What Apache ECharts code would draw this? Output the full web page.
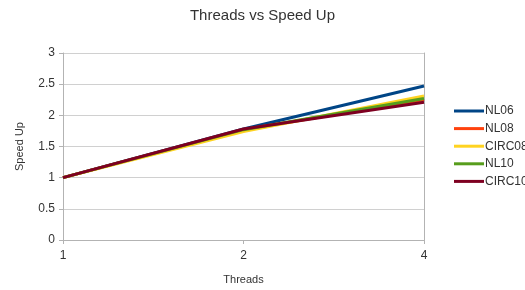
<!DOCTYPE html>
<html><head><meta charset="utf-8">
<script src="https://cdn.jsdelivr.net/npm/echarts@6/dist/echarts.min.js"></script>
<style>html,body{margin:0;padding:0;background:#fff}#c{width:525px;height:290px}</style>
</head><body><div id="c"></div>
<script>
var threads = ['1', '2', '4'];
var NL06 = [1, 1.78, 2.47];
var NL08 = [1, 1.77, 2.25];
var CIRC08 = [1, 1.74, 2.31];
var NL10 = [1, 1.77, 2.27];
var CIRC10 = [1, 1.78, 2.21];
var names = ['NL06', 'NL08', 'CIRC08', 'NL10', 'CIRC10'];
var colors = ['#004586', '#ff420e', '#ffd320', '#579d1c', '#7e0021'];
var dataSets = [NL06, NL08, CIRC08, NL10, CIRC10];
var font = 'Liberation Sans, Arial, sans-serif';
var chart = echarts.init(document.getElementById('c'));
chart.setOption({
  animation: false,
  title: { text: 'Threads vs Speed Up', left: 'center', top: 3,
    textStyle: { fontFamily: font, fontSize: 15, fontWeight: 'normal', color: '#333' } },
  grid: { left: 63, right: 101, top: 53, bottom: 48 },
  legend: {
    orient: 'vertical', left: 454, top: 105, itemWidth: 30, itemHeight: 3, itemGap: 5.6,
    padding: 0, icon: 'rect',
    textStyle: { fontFamily: font, fontSize: 12, color: '#333', padding: [0, 0, 0, -4] },
    data: names
  },
  xAxis: {
    type: 'category', data: threads, boundaryGap: false,
    name: 'Threads', nameLocation: 'middle', nameGap: 34,
    nameTextStyle: { fontFamily: font, fontSize: 11, color: '#333' },
    axisLine: { lineStyle: { color: '#b3b3b3' } },
    axisTick: { show: true, length: 4, lineStyle: { color: '#b3b3b3' } },
    axisLabel: { fontFamily: font, fontSize: 12, color: '#333', margin: 10 },
    splitLine: { show: false }
  },
  yAxis: [{
    type: 'value', min: 0, max: 3, interval: 0.5,
    name: 'Speed Up', nameLocation: 'middle', nameGap: 38,
    nameTextStyle: { fontFamily: font, fontSize: 11, color: '#333' },
    axisLine: { show: true, lineStyle: { color: '#b3b3b3' } },
    axisTick: { show: true, length: 4, lineStyle: { color: '#b3b3b3' } },
    axisLabel: { fontFamily: font, fontSize: 12, color: '#333', margin: 8 },
    splitLine: { lineStyle: { color: '#d0d0d0' } }
  }, {
    type: 'value', min: 0, max: 3, interval: 0.5, position: 'right',
    axisLine: { show: true, lineStyle: { color: '#b3b3b3' } },
    axisTick: { show: false }, axisLabel: { show: false }, splitLine: { show: false }
  }],
  series: names.map(function (n, i) {
    return {
      name: n, type: 'line', data: dataSets[i], symbol: 'none',
      lineStyle: { width: 3, color: colors[i] }, itemStyle: { color: colors[i] }, z: 2 + i
    };
  })
});
</script></body></html>
